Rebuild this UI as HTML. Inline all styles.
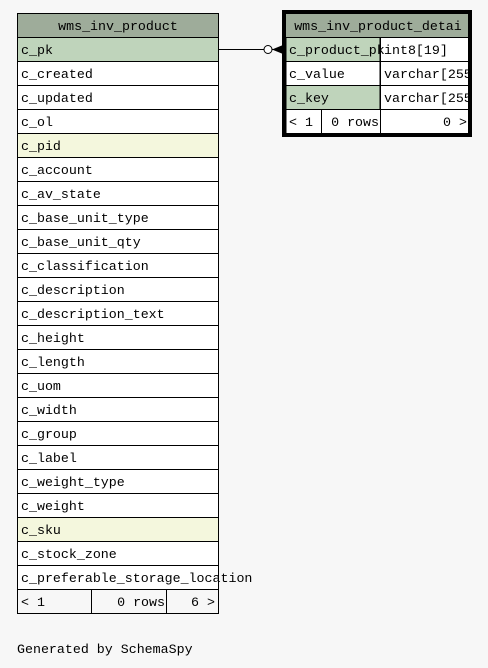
<!DOCTYPE html>
<html><head><style>
html,body{margin:0;padding:0;background:#f7f7f7;}
svg{display:block;}
text{font-family:"Liberation Mono",monospace;font-size:13.3px;fill:#000;}
</style></head><body>
<svg width="488" height="668" viewBox="0 0 488 668">
<rect width="488" height="668" fill="#f7f7f7"/>
<!-- left table -->
<rect x="17.5" y="13.5" width="201" height="24" fill="#9eac9a" stroke="#000"/>
<text x="118" y="30" text-anchor="middle">wms_inv_product</text>
<g id="rows">
<rect x="17.5" y="37.5" width="201" height="24" fill="#bfd4bb" stroke="#000"/><text x="21" y="54">c_pk</text>
<rect x="17.5" y="61.5" width="201" height="24" fill="#fff" stroke="#000"/><text x="21" y="78">c_created</text>
<rect x="17.5" y="85.5" width="201" height="24" fill="#fff" stroke="#000"/><text x="21" y="102">c_updated</text>
<rect x="17.5" y="109.5" width="201" height="24" fill="#fff" stroke="#000"/><text x="21" y="126">c_ol</text>
<rect x="17.5" y="133.5" width="201" height="24" fill="#f4f7dd" stroke="#000"/><text x="21" y="150">c_pid</text>
<rect x="17.5" y="157.5" width="201" height="24" fill="#fff" stroke="#000"/><text x="21" y="174">c_account</text>
<rect x="17.5" y="181.5" width="201" height="24" fill="#fff" stroke="#000"/><text x="21" y="198">c_av_state</text>
<rect x="17.5" y="205.5" width="201" height="24" fill="#fff" stroke="#000"/><text x="21" y="222">c_base_unit_type</text>
<rect x="17.5" y="229.5" width="201" height="24" fill="#fff" stroke="#000"/><text x="21" y="246">c_base_unit_qty</text>
<rect x="17.5" y="253.5" width="201" height="24" fill="#fff" stroke="#000"/><text x="21" y="270">c_classification</text>
<rect x="17.5" y="277.5" width="201" height="24" fill="#fff" stroke="#000"/><text x="21" y="294">c_description</text>
<rect x="17.5" y="301.5" width="201" height="24" fill="#fff" stroke="#000"/><text x="21" y="318">c_description_text</text>
<rect x="17.5" y="325.5" width="201" height="24" fill="#fff" stroke="#000"/><text x="21" y="342">c_height</text>
<rect x="17.5" y="349.5" width="201" height="24" fill="#fff" stroke="#000"/><text x="21" y="366">c_length</text>
<rect x="17.5" y="373.5" width="201" height="24" fill="#fff" stroke="#000"/><text x="21" y="390">c_uom</text>
<rect x="17.5" y="397.5" width="201" height="24" fill="#fff" stroke="#000"/><text x="21" y="414">c_width</text>
<rect x="17.5" y="421.5" width="201" height="24" fill="#fff" stroke="#000"/><text x="21" y="438">c_group</text>
<rect x="17.5" y="445.5" width="201" height="24" fill="#fff" stroke="#000"/><text x="21" y="462">c_label</text>
<rect x="17.5" y="469.5" width="201" height="24" fill="#fff" stroke="#000"/><text x="21" y="486">c_weight_type</text>
<rect x="17.5" y="493.5" width="201" height="24" fill="#fff" stroke="#000"/><text x="21" y="510">c_weight</text>
<rect x="17.5" y="517.5" width="201" height="24" fill="#f4f7dd" stroke="#000"/><text x="21" y="534">c_sku</text>
<rect x="17.5" y="541.5" width="201" height="24" fill="#fff" stroke="#000"/><text x="21" y="558">c_stock_zone</text>
<rect x="17.5" y="565.5" width="201" height="24" fill="#fff" stroke="#000"/><text x="21" y="582">c_preferable_storage_location</text>
</g>
<rect x="17.5" y="589.5" width="201" height="24" fill="none" stroke="#000"/>
<line x1="91.5" y1="589.5" x2="91.5" y2="613.5" stroke="#000"/>
<line x1="166.5" y1="589.5" x2="166.5" y2="613.5" stroke="#000"/>
<text x="21" y="606">&lt; 1</text>
<text x="165" y="606" text-anchor="end">0 rows</text>
<text x="215" y="606" text-anchor="end">6 &gt;</text>

<!-- connector -->
<line x1="218" y1="49.5" x2="264" y2="49.5" stroke="#000"/>
<circle cx="268" cy="49.5" r="4" fill="#fff" stroke="#000"/>
<path d="M272 49.5 L283 45 L283 54 Z" fill="#000"/>
<line x1="272" y1="49.5" x2="283" y2="49.5" stroke="#000"/>

<!-- right table -->
<rect x="286" y="13" width="184" height="24" fill="#9eac9a"/>
<text x="378" y="30" text-anchor="middle">wms_inv_product_detai</text>
<rect x="286" y="37.5" width="94" height="24" fill="#bfd4bb" stroke="#000"/>
<rect x="380.5" y="37.5" width="90" height="24" fill="#fff" stroke="#000"/>
<text x="289" y="54">c_product_pk</text><text x="384" y="54">int8[19]</text>
<rect x="286" y="61.5" width="94" height="24" fill="#fff" stroke="#000"/>
<rect x="380.5" y="61.5" width="90" height="24" fill="#fff" stroke="#000"/>
<text x="289" y="78">c_value</text><text x="384" y="78">varchar[255]</text>
<rect x="286" y="85.5" width="94" height="24" fill="#bfd4bb" stroke="#000"/>
<rect x="380.5" y="85.5" width="90" height="24" fill="#fff" stroke="#000"/>
<text x="289" y="102">c_key</text><text x="384" y="102">varchar[255]</text>
<rect x="286" y="109.5" width="184" height="24" fill="#fff" stroke="#000"/>
<line x1="321.5" y1="109.5" x2="321.5" y2="133.5" stroke="#000"/>
<line x1="380.5" y1="109.5" x2="380.5" y2="133.5" stroke="#000"/>
<text x="289" y="126">&lt; 1</text>
<text x="379" y="126" text-anchor="end">0 rows</text>
<text x="467" y="126" text-anchor="end">0 &gt;</text>
<rect x="472" y="10" width="16" height="128" fill="#f7f7f7"/>
<rect x="284" y="12" width="186" height="123" fill="none" stroke="#000" stroke-width="4"/>

<text x="17" y="653">Generated by SchemaSpy</text>
</svg>
</body></html>
